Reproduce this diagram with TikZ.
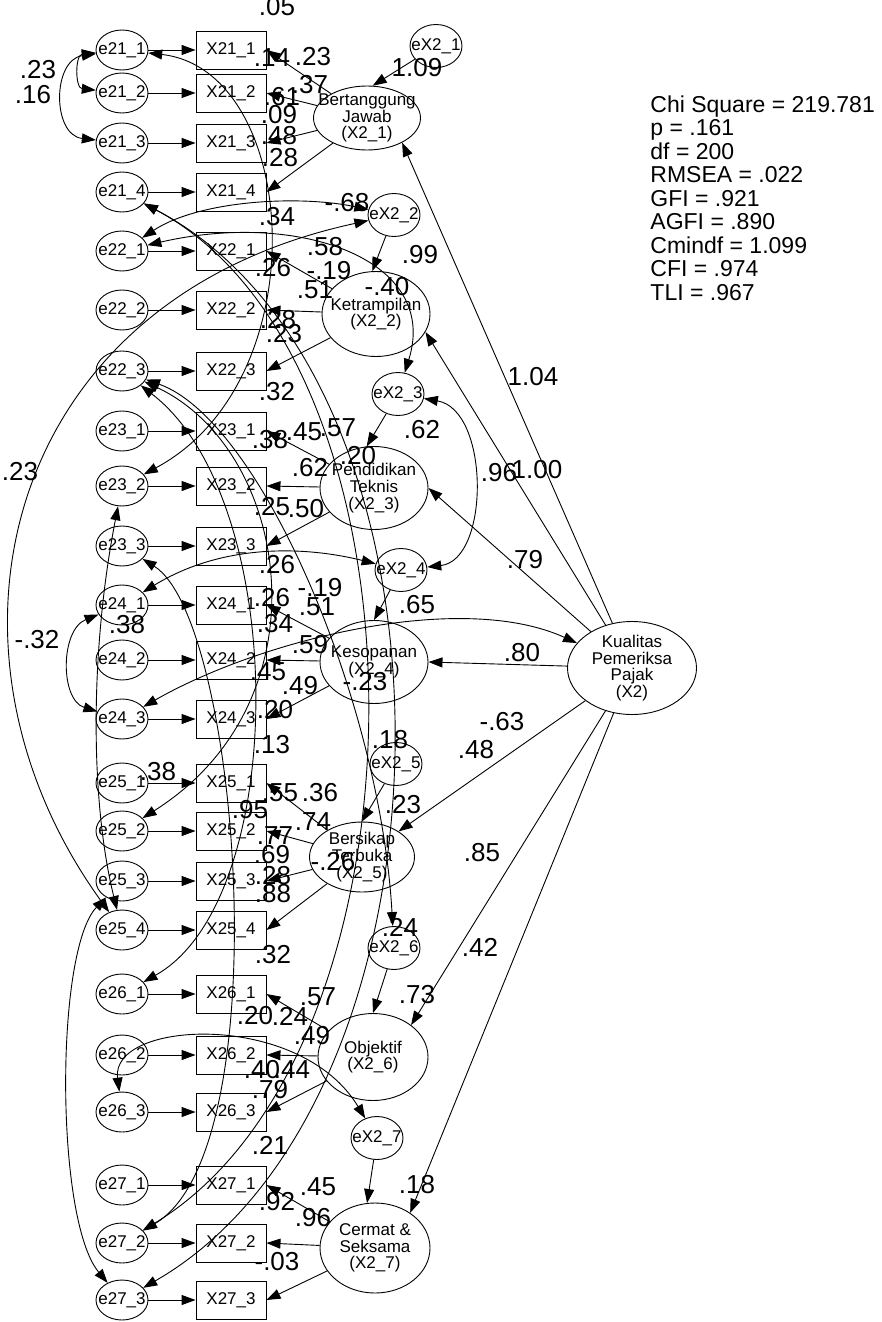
\documentclass[tikz,border=0pt]{standalone}
\usepackage{fontspec}
\setmainfont{Liberation Sans}
\usetikzlibrary{arrows.meta, shapes.geometric, positioning}
\tikzset{
  errvar/.style={draw, ellipse, inner sep=0pt, minimum width=26pt, minimum height=20pt},
  obsvar/.style={draw, rectangle, inner sep=0pt, minimum width=35pt, minimum height=19pt,
    font=\fontsize{8.5}{8.5}\selectfont},
  latvar/.style={draw, ellipse, inner sep=0pt},
  vartext/.style={font=\fontsize{8.5}{8.5}\selectfont, inner sep=0pt},
  lattext/.style={font=\fontsize{8.5}{8.3}\selectfont, align=center, inner sep=0pt},
  coef/.style={font=\fontsize{13}{13}\selectfont, inner sep=0pt},
  cov/.style={<->},
}
\begin{document}
\begin{tikzpicture}[x=0.5pt, y=-0.5pt, line width=0.45pt, >={Triangle[length=7pt,width=5pt]}]
\useasboundingbox (0,0) rectangle (882,1322);

% indicators and their errors
\foreach \f/\b/\y in {1/1/50,1/2/93,1/3/143,1/4/192,2/1/251,2/2/310,2/3/371,
    3/1/431,3/2/486,3/3/546,4/1/605,4/2/660,4/3/719,5/1/783,5/2/831,5/3/881,5/4/930,
    6/1/994,6/2/1055,6/3/1112,7/1/1185,7/2/1243,7/3/1300}{
  \node[errvar, label={[vartext]center:e2\f\_\b}] (e2\f\b) at (122,\y) {};
  \node[obsvar] (x2\f\b) at (231,\y) {X2\f\_\b};
  \draw[->] (e2\f\b) -- (x2\f\b);
}

% dimensions
\node[latvar, minimum width=53.5pt, minimum height=32pt,
  label={[lattext]center:{Bertanggung\\Jawab\\(X2\_1)}}] (f1) at (367,118) {};
\node[latvar, minimum width=54pt, minimum height=42.5pt,
  label={[lattext]center:{Ketrampilan\\(X2\_2)}}] (f2) at (376,314) {};
\node[latvar, minimum width=54pt, minimum height=41.5pt,
  label={[lattext]center:{Pendidikan\\Teknis\\(X2\_3)}}] (f3) at (374,488) {};
\node[latvar, minimum width=54pt, minimum height=41.5pt,
  label={[lattext]center:{Kesopanan\\(X2\_4)}}] (f4) at (374,662) {};
\node[latvar, minimum width=52.5pt, minimum height=35pt,
  label={[lattext]center:{Bersikap\\Terbuka\\(X2\_5)}}] (f5) at (362,857) {};
\node[latvar, minimum width=55pt, minimum height=43.5pt,
  label={[lattext]center:{Objektif\\(X2\_6)}}] (f6) at (373,1057) {};
\node[latvar, minimum width=55pt, minimum height=45pt,
  label={[lattext]center:{Cermat \&\\Seksama\\(X2\_7)}}] (f7) at (375,1248) {};
\node[latvar, minimum width=64.5pt, minimum height=46.5pt,
  label={[lattext]center:{Kualitas\\Pemeriksa\\Pajak\\(X2)}}] (k) at (632,668) {};

\foreach \k/\x/\y in {1/436/46,2/394/215,3/398/394,4/401/570,5/396/764,6/394/948,7/377/1138}
  \node[errvar, minimum height=21.5pt, label={[vartext]center:eX2\_\k}] (ex\k) at (\x,\y) {};

% loadings
\foreach \f/\n in {1/4,2/3,3/3,4/3,5/4,6/3,7/3}
  \foreach \b in {1,...,\n}
    \draw[->] (f\f) -- (x2\f\b.east);

\draw[->] (ex1) -- (f1.80);
\draw[->] (ex2) -- (f2.95);
\draw[->] (ex3) -- (f3.100);
\draw[->] (ex4) -- (f4.north);
\draw[->] (ex5) -- (f5.north);
\draw[->] (ex6) -- (f6.north);
\draw[->] (ex7) -- (f7.100);

\draw[->] (k) -- (f1.-35);
\draw[->] (k) -- (f2.-20);
\draw[->] (k) -- (f3.east);
\draw[->] (k) -- (f4.east);
\draw[->] (k) -- (f5.35);
\draw[->] (k) -- (f6.40);
\draw[->] (k) -- (f7.45);

% covariances
\draw[cov] (e211) .. controls (75,55) and (75,88) .. (e212);
\draw[cov] (e211) .. controls (52,60) and (52,135) .. (e213);
\draw[cov] (e211) .. controls (300,70) and (320,380) .. (e232);
\draw[cov] (e214) .. controls (480,380) and (470,1100) .. (e273);
\draw[cov] (e214) .. controls (440,360) and (440,1050) .. (e272);
\draw[cov] (e221) .. controls (200,200) and (300,195) .. (ex2);
\draw[cov] (e221) .. controls (300,210) and (440,260) .. (ex3);
\draw[cov] (e254) .. controls (-80,650) and (0,300) .. (ex2);
\draw[cov] (e241) .. controls (60,630) and (60,700) .. (e243);
\draw[cov] (e223) .. controls (260,420) and (380,700) .. (ex6);
\draw[cov] (e223) .. controls (290,450) and (330,700) .. (e252);
\draw[cov] (e223) .. controls (290,500) and (290,900) .. (e261);
\draw[cov] (e233) .. controls (240,620) and (280,1150) .. (e272);
\draw[cov] (e232) .. controls (90,650) and (90,800) .. (e254);
\draw[cov] (e263) .. controls (110,1020) and (300,1010) .. (ex7);
\draw[cov] (e241) .. controls (220,545) and (300,545) .. (ex4);
\draw[cov] (e243) .. controls (260,640) and (460,590) .. (k);
\draw[cov] (ex3) .. controls (490,410) and (490,560) .. (ex4);
\draw[cov] (e253) .. controls (55,950) and (55,1220) .. (e273);

% estimates
\foreach \px/\py/\t [count=\n] in {277/7/.05, 272/58/.14, 313/57/.23, 310/85/.37, 417/68/1.09,
    282/97/.61, 279/115/.09, 279/136/.48, 280/158/.28, 277/217/.34, 347/203/-.68,
    325/247/.58, 420/255/.99, 273/268/.26, 329/271/-.19, 315/290/.51, 387/287/-.40,
    278/320/.28, 284/334/.23, 277/392/.32, 270/440/.38, 304/432/.45, 338/428/.57,
    422/430/.62, 358/456/.20, 310/468/.62, 272/507/.25, 306/509/.50, 277/565/.26,
    320/588/-.19, 317/607/.51, 272/598/.26, 275/624/.34, 417/605/.65, 127/625/.38,
    310/645/.59, 268/672/.45, 300/686/.49, 365/682/-.23, 275/710/.20, 272/745/.13,
    390/740/.18, 158/772/.38, 280/793/.55, 320/793/.36, 250/810/.95, 313/822/.74,
    403/805/.23, 275/836/.77, 272/855/.69, 333/862/-.26, 273/876/.28, 273/894/.88,
    400/927/.24, 273/955/.32, 255/1016/.20, 290/1016/.24, 318/997/.57, 417/995/.73,
    312/1036/.49, 262/1070/.40, 292/1070/.44, 270/1090/.79, 270/1145/.21, 318/1187/.45,
    417/1185/.18, 277/1202/.92, 313/1218/.96, 277/1262/-.03,
    533/377/1.04, 499/473/.96, 537/470/1.00, 525/560/.79, 522/653/.80, 502/722/-.63,
    476/750/.48, 482/853/.85, 480/947/.42,
    38/70/.23, 33/95/.16, 20/472/.23, 37/640/-.32}
  \node[coef] (c\n) at (\px,\py) {\t};

% fit indices
\node[anchor=north west, align=left, inner sep=0pt, font=\fontsize{11.5}{11.75}\selectfont]
  (fitidx) at (650,95) {Chi Square = 219.781\\p = .161\\df = 200\\RMSEA = .022\\GFI = .921\\
  AGFI = .890\\Cmindf = 1.099\\CFI = .974\\TLI = .967};
\end{tikzpicture}
\end{document}
